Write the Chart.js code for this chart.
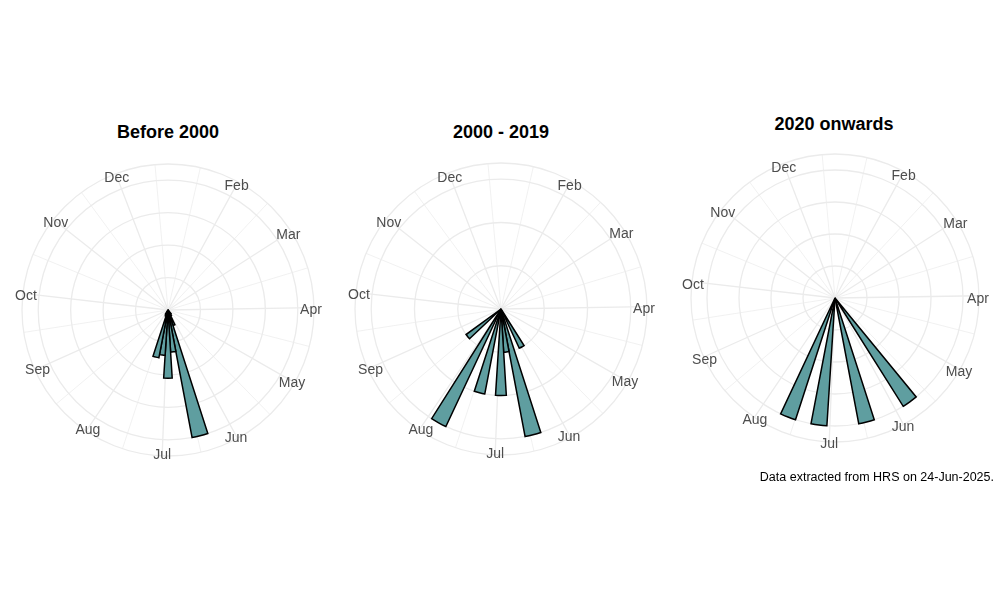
<!DOCTYPE html>
<html>
<head>
<meta charset="utf-8">
<title>Seasonal distribution by period</title>
<script src="https://cdn.jsdelivr.net/npm/chart.js@4.4.1/dist/chart.umd.min.js"></script>
<style>
  html, body { margin: 0; padding: 0; background: #ffffff; }
  body {
    position: relative;
    width: 1000px;
    height: 600px;
    overflow: hidden;
    font-family: "Liberation Sans", Arial, sans-serif;
  }
  .panel-title {
    position: absolute;
    width: 240px;
    text-align: center;
    font-size: 18px;
    font-weight: bold;
    line-height: 20px;
    color: #000000;
  }
  .rose { position: absolute; }
  .caption {
    position: absolute;
    right: 6px;
    top: 470px;
    font-size: 12.5px;
    line-height: 14px;
    color: #000000;
  }
</style>
</head>
<body>
  <div class="panel-title" style="left:48px; top:122px;">Before 2000</div>
  <div class="panel-title" style="left:381px; top:122px;">2000 - 2019</div>
  <div class="panel-title" style="left:714px; top:114px;">2020 onwards</div>

  <canvas id="roseBefore2000" class="rose" width="340" height="340" style="left:-2px; top:140px;"></canvas>
  <canvas id="rose2000to2019" class="rose" width="340" height="340" style="left:331px; top:139px;"></canvas>
  <canvas id="rose2020on" class="rose" width="340" height="340" style="left:665px; top:128px;"></canvas>

  <div class="caption">Data extracted from HRS on 24-Jun-2025.</div>

<script>
  // month ticks on a day-of-year axis
  const monthLabels = ["Feb", "Mar", "Apr", "May", "Jun", "Jul", "Aug", "Sep", "Oct", "Nov", "Dec"];
  const monthStartDays = [32, 60, 91, 121, 152, 182, 213, 244, 274, 305, 335];
  const minorBreakDays = [16.5, 46, 75.5, 106, 136.5, 167, 197.5, 228.5, 259, 289.5, 320, 350.5];
  const dayRange = [4, 355.5];
  const binDays = 7;

  // weekly bins (centre day of year) and bar heights
  const before2000Bins = [144.8, 151.8, 158.8, 165.8, 172.8, 179.8, 186.8, 193.8, 200.8, 207.8];
  const before2000Values = [0.15, 0.2, 0.5, 4, 1.3, 2.1, 1.4, 1.5, 0.2, 0.15];
  const before2000Breaks = [1, 2, 3, 4];

  const mid2000Bins = [151.8, 165.8, 172.8, 179.8, 193.8, 207.8, 228.8];
  const mid2000Values = [1, 3, 1, 2, 2, 3, 1];
  const mid2000Breaks = [1, 2, 3];

  const recentBins = [144.8, 165.8, 186.8, 200.8];
  const recentValues = [1, 1, 1, 1];
  const recentBreaks = [0.25, 0.5, 0.75, 1];

  const barFill = "#5F9EA0";
  const gridColour = "#EBEBEB";
  const stepsPerDay = 2;
  const spanDays = dayRange[1] - dayRange[0];
  const degPerDay = 360 / spanDays;

  // one scale label per half day so spokes can sit on any break
  const axisLabels = [];
  for (let i = 0; i < Math.round(spanDays * stepsPerDay); i++) {
    axisLabels.push(String(dayRange[0] + i / stepsPerDay));
  }

  const dayToIndex = (day) => (day - dayRange[0]) * stepsPerDay;
  const majorIdx = monthStartDays.map(dayToIndex);
  const minorIdx = minorBreakDays.map(dayToIndex);

  function spokeWidth(index) {
    if (majorIdx.includes(index)) return 1.3;
    if (minorIdx.includes(index)) return 0.7;
    return 0;
  }

  function buildArcs(centres, heights) {
    const values = [];
    const angles = [];
    const fills = [];
    const borders = [];
    let cursor = dayRange[0];
    centres.forEach((centre, i) => {
      const start = centre - binDays / 2;
      if (start - cursor > 0.01) {
        values.push(0);
        angles.push((start - cursor) * degPerDay);
        fills.push("rgba(0,0,0,0)");
        borders.push(0);
      }
      values.push(heights[i]);
      angles.push(binDays * degPerDay);
      fills.push(barFill);
      borders.push(1.5);
      cursor = start + binDays;
    });
    return { values, angles, fills, borders };
  }

  function monthLabelPlugin(inset, shiftY) {
    return {
      id: "monthLabels",
      afterDraw(chart) {
        const scale = chart.scales.r;
        const ctx = chart.ctx;
        ctx.save();
        ctx.font = '14px "Liberation Sans", Arial, sans-serif';
        ctx.fillStyle = "#4D4D4D";
        ctx.textAlign = "center";
        ctx.textBaseline = "middle";
        monthLabels.forEach((label, i) => {
          const pos = scale.getPointPosition(dayToIndex(monthStartDays[i]), scale.drawingArea - inset);
          ctx.fillText(label, pos.x, pos.y + shiftY);
        });
        ctx.restore();
      },
    };
  }

  function renderRose(canvasId, centres, heights, breaks, radius, labelInset, labelShift) {
    const arcs = buildArcs(centres, heights);
    const outer = breaks[breaks.length - 1] * 1.125;
    const canvas = document.getElementById(canvasId);
    const pad = canvas.width / 2 - radius;

    new Chart(canvas, {
      type: "polarArea",
      data: {
        labels: axisLabels,
        datasets: [
          {
            data: arcs.values,
            angle: arcs.angles,
            backgroundColor: arcs.fills,
            borderColor: "#000000",
            borderWidth: arcs.borders,
            borderJoinStyle: "miter",
          },
        ],
      },
      options: {
        responsive: false,
        animation: false,
        events: [],
        layout: { padding: pad },
        plugins: {
          legend: { display: false },
          tooltip: { enabled: false },
        },
        scales: {
          r: {
            min: 0,
            max: outer,
            startAngle: 0,
            afterBuildTicks: (scale) => {
              scale.ticks = [0].concat(breaks, [outer]).map((v) => ({ value: v }));
            },
            ticks: { display: false },
            pointLabels: { display: false },
            grid: { circular: true, color: gridColour, lineWidth: 1.3 },
            angleLines: {
              display: true,
              color: gridColour,
              lineWidth: (ctx) => spokeWidth(ctx.index),
            },
          },
        },
      },
      plugins: [monthLabelPlugin(labelInset, labelShift)],
    });
  }

  renderRose("roseBefore2000", before2000Bins, before2000Values, before2000Breaks, 146, 3, 2);
  renderRose("rose2000to2019", mid2000Bins, mid2000Values, mid2000Breaks, 146, 3, 2.5);
  renderRose("rose2020on", recentBins, recentValues, recentBreaks, 144, 1, 3.5);
</script>
</body>
</html>
